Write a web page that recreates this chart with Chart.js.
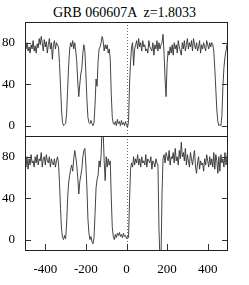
<!DOCTYPE html>
<html>
<head>
<meta charset="utf-8">
<script src="https://cdn.jsdelivr.net/npm/chart.js@4"></script>
<style>
  body { margin: 0; background: #fff; }
  #wrap { position: relative; width: 249px; height: 285px; }
  #wrap canvas { position: absolute; left: 0; top: 0; }
  #title {
    position: absolute; left: 0; top: 5px; width: 249px;
    text-align: center; white-space: pre;
    font: 14px/16px "Liberation Serif", serif; color: #000;
  }
</style>
</head>
<body>
<div id="wrap">
  <div id="title">GRB 060607A  z=1.8033</div>
  <canvas id="top" width="249" height="285"></canvas>
  <canvas id="bottom" width="249" height="285"></canvas>
</div>
<script>
// velocity grid in km/s, one sample every 5 km/s from -500 to 500
const velStart = -500
const velStep = 5

const xTicks = [-400, -200, 0, 200, 400]
const yTicks = [0, 40, 80]

// upper line profile (normalised flux, %)
const topFlux = [
  78, 74, 80, 72, 76, 70, 78, 74, 82, 72,
  77, 70, 79, 75, 84, 78, 86, 80, 72, 83,
  76, 81, 70, 78, 84, 74, 80, 64, 78, 82,
  74, 80, 78, 76, 60, 38, 15, 3, 0, 1,
  2, 12, 35, 58, 74, 80, 76, 82, 74, 80,
  72, 62, 42, 28, 40, 50, 55, 70, 78, 72,
  50, 25, 8, 3, 2, 5, 2, 0, 3, 20,
  45, 38, 62, 74, 76, 80, 86, 82, 72, 78,
  74, 78, 70, 74, 64, 30, 8, 2, 1, 4,
  0, 6, 2, 4, 0, 5, 1, 3, 0, 4,
  1, -2, 4, 40, 62, 76, 80, 58, 74, 78,
  82, 74, 84, 76, 80, 72, 82, 76, 78, 72,
  74, 70, 82, 76, 74, 72, 80, 68, 78, 74,
  82, 72, 80, 74, 78, 80, 88, 70, 45, 28,
  60, 72, 68, 76, 70, 78, 68, 80, 74, 78,
  70, 82, 76, 72, 68, 80, 74, 82, 72, 78,
  84, 74, 80, 76, 82, 72, 84, 78, 74, 80,
  72, 76, 82, 70, 78, 74, 80, 76, 72, 82,
  78, 74, 80, 76, 80, 78, 72, 55, 35, 15,
  4, 0, 1, 0, 10, 38, 56, 66, 72, 78,
  72
]

// lower line profile
const bottomFlux = [
  74, 70, 80, 68, 78, 72, 82, 74, 76, 70,
  80, 74, 82, 72, 78, 76, 84, 70, 78, 80,
  72, 82, 76, 74, 80, 70, 78, 74, 72, 78,
  70, 76, 80, 74, 55, 30, 10, 2, 0, 4,
  1, 15, 40, 55, 62, 68, 72, 66, 78, 86,
  80, 72, 60, 44, 56, 62, 68, 80, 86, 88,
  72, 50, 20, 6, 0, 3, -2, -4, 2, 25,
  50, 58, 62, 76, 70, 82, 110, 105, 76, 57,
  80, 70, 78, 72, 76, 40, 12, 3, 0, 5,
  2, 6, 4, 7, 3, 5, 2, 6, 3, 4,
  1, 3, 2, 38, 68, 74, 70, 80, 72, 78,
  74, 82, 72, 78, 70, 80, 74, 76, 72, 82,
  70, 78, 76, 74, 80, 68, 76, 74, 70, 78,
  74, 72, 10, -20, -20, 45, 78, 82, 74, 84,
  80, 76, 86, 72, 80, 78, 84, 74, 88, 76,
  80, 72, 86, 78, 94, 80, 84, 76, 88, 72,
  82, 76, 70, 84, 78, 72, 80, 86, 70, 64,
  74, 80, 68, 76, 72, 74, 66, 78, 72, 82,
  76, 70, 80, 72, 78, 70, 84, 68, 82, 76,
  64, 80, 66, 82, 74, 78, 70, 84, 72, 80,
  90
]

const toPoints = flux => flux.map((f, i) => ({ x: velStart + i * velStep, y: f }))

const serif = { family: '"Liberation Serif", serif', size: 13 }

// box, inward ticks and dotted v=0 line, gnuplot style
const framePlugin = {
  id: 'frame',
  afterDatasetsDraw(chart, args, opts) {
    const { ctx, chartArea: a, scales: { x, y } } = chart
    ctx.save()
    ctx.lineWidth = 1

    const x0 = Math.round(x.getPixelForValue(0)) + 0.5
    ctx.strokeStyle = '#666'
    ctx.setLineDash([1, 2])
    ctx.beginPath()
    ctx.moveTo(x0, a.top)
    ctx.lineTo(x0, a.bottom)
    ctx.stroke()
    ctx.setLineDash([])

    ctx.strokeStyle = '#333'
    ctx.beginPath()
    yTicks.forEach(v => {
      const py = Math.round(y.getPixelForValue(v)) + 0.5
      ctx.moveTo(a.left, py); ctx.lineTo(a.left + 6, py)
      ctx.moveTo(a.right, py); ctx.lineTo(a.right - 6, py)
    })
    if (opts.xTicks) {
      xTicks.forEach(v => {
        const px = Math.round(x.getPixelForValue(v)) + 0.5
        ctx.moveTo(px, a.bottom); ctx.lineTo(px, a.bottom - 6)
      })
    }
    ctx.stroke()

    ctx.strokeStyle = '#222'
    ctx.strokeRect(a.left + 0.5, a.top + 0.5, a.right - a.left - 1, a.bottom - a.top)
    ctx.restore()
  }
}

const makePanel = (id, flux, padding, showX) => new Chart(id, {
  type: 'line',
  data: {
    datasets: [{
      data: toPoints(flux),
      borderColor: '#303030',
      borderWidth: 0.9,
      pointRadius: 0,
      tension: 0,
      clip: 0
    }]
  },
  options: {
    responsive: false,
    animation: false,
    layout: { padding: padding },
    plugins: {
      legend: { display: false },
      tooltip: { enabled: false },
      frame: { xTicks: showX }
    },
    scales: {
      x: {
        type: 'linear',
        min: -500,
        max: 500,
        grid: { display: false, drawTicks: false },
        border: { display: false },
        afterBuildTicks: s => { s.ticks = xTicks.map(v => ({ value: v })) },
        afterFit: s => { s.height = showX ? 35 : 0 },
        ticks: { display: showX, color: '#000', font: serif, padding: 12, maxRotation: 0 }
      },
      y: {
        min: -10,
        max: 100,
        grid: { display: false, drawTicks: false },
        border: { display: false },
        afterBuildTicks: s => { s.ticks = yTicks.map(v => ({ value: v })) },
        afterFit: s => { s.width = 25 },
        ticks: { color: '#000', font: serif, padding: 10 }
      }
    }
  },
  plugins: [framePlugin]
})

makePanel('top', topFlux, { left: 0, top: 22, right: 21, bottom: 149 }, false)
makePanel('bottom', bottomFlux, { left: 0, top: 136, right: 21, bottom: 0 }, true)
</script>
</body>
</html>
